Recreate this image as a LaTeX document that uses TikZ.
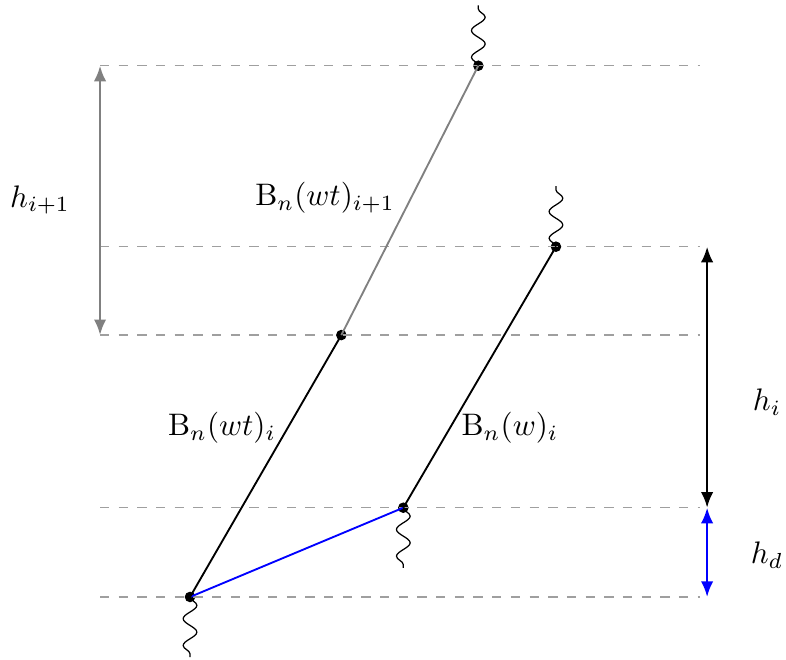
\documentclass[tikz,border=0pt]{standalone}
\usepackage{tikz}
\usetikzlibrary{decorations.pathmorphing,arrows.meta}

\begin{document}
\begin{tikzpicture}[
  guide/.style={dashed, gray!75},
  seg/.style={semithick},
  wiggle/.style={decorate, decoration={snake, amplitude=2.2pt, segment length=8.6pt, pre length=0pt, post length=0.5pt}},
  dot/.style={circle, fill, inner sep=0pt, minimum size=3.4pt},
  height/.style={thick, {Latex[length=5pt,width=4pt]}-{Latex[length=5pt,width=4pt]}}
]
  \useasboundingbox (-2.146,-0.711) rectangle (6.731,6.742);

  % Points
  \node[dot] (a) at (0,0) {};
  \node[dot] (b) at (2.409,1.008) {};
  \node[dot] (c) at (1.709,2.958) {};
  \node[dot] (d) at (4.133,3.956) {};
  \node[dot] (e) at (3.256,6) {};

  \coordinate (L) at (-1.016,0);
  \coordinate (R) at (5.76,0);
  \coordinate (hl) at (-1.016,0);
  \coordinate (hr) at (5.84,0);

  % Levels
  \foreach \p in {a,b,c,d,e}
    \draw[guide] (L |- \p) -- (R |- \p);

  % Segments
  \draw[seg, blue] (a.center) -- (b.center);
  \draw[seg] (a.center) -- (c.center);
  \draw[seg, gray] (c.center) -- (e.center);
  \draw[seg] (b.center) -- (d.center);

  % Wiggles
  \coordinate (ea) at (0,-0.68);
  \coordinate (eb) at (2.409,0.33);
  \coordinate (ed) at (4.133,4.64);
  \coordinate (ee) at (3.256,6.68);
  \draw[wiggle] (a.center) -- (ea);
  \draw[wiggle] (b.center) -- (eb);
  \draw[wiggle] (d.center) -- (ed);
  \draw[wiggle] (e.center) -- (ee);

  % Heights
  \draw[height, gray] (hl |- e) -- (hl |- c);
  \draw[height] (hr |- d) -- (hr |- b);
  \draw[height, blue] (hr |- b) -- (hr |- a);

  % Labels
  \node (hip) at (-1.694,4.483) {$h_{i+1}$};
  \node (hi) at (6.516,2.202) {$h_i$};
  \node (hd) at (6.516,0.474) {$h_d$};
  \node (bwtip) at (1.525,4.506) {$\mathrm{B}_n(wt)_{i+1}$};
  \node (bwti) at (0.361,1.909) {$\mathrm{B}_n(wt)_i$};
  \node (bwi) at (3.614,1.909) {$\mathrm{B}_n(w)_i$};

\end{tikzpicture}
\end{document}
